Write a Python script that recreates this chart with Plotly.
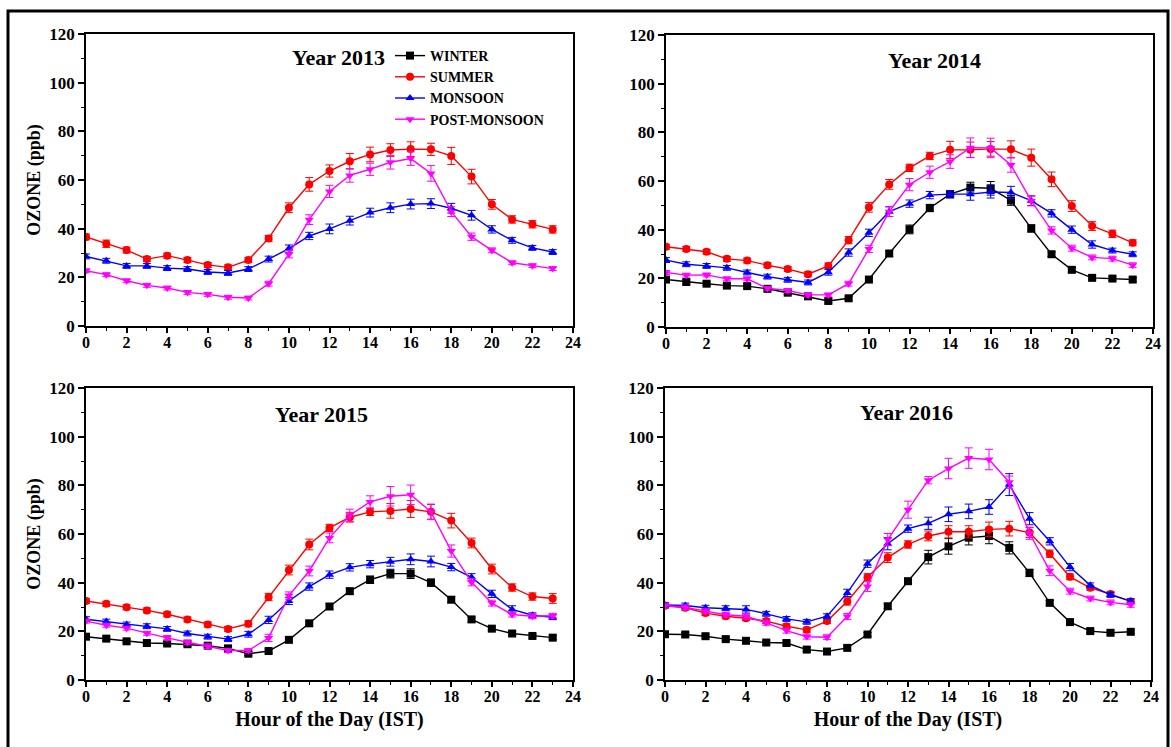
import plotly.graph_objects as go

hours = list(range(24))
x_ticks = list(range(0, 25, 2))
y_ticks = list(range(0, 121, 20))
years = ["Year 2013", "Year 2014", "Year 2015", "Year 2016"]
seasons = ["WINTER", "SUMMER", "MONSOON", "POST-MONSOON"]

# ---- 2013 (no winter data) ----
s13 = [36.6, 33.8, 31.2, 27.5, 28.9, 27.1, 25.1, 24.1, 27.1, 36.0, 48.6, 58.2,
       63.7, 67.7, 70.5, 72.3, 72.7, 72.6, 69.9, 61.4, 50.0, 43.8, 41.8, 39.7]
m13 = [28.6, 26.8, 24.7, 24.7, 23.8, 23.4, 22.2, 21.8, 23.4, 27.5, 31.8, 37.0,
       39.9, 43.3, 46.6, 48.6, 50.1, 50.3, 48.4, 45.5, 39.7, 35.2, 32.1, 30.4]
p13 = [22.7, 21.1, 18.6, 16.7, 15.6, 13.8, 13.0, 11.8, 11.5, 17.4, 29.5, 43.7,
       55.3, 61.9, 64.4, 67.3, 68.8, 62.7, 47.0, 36.7, 31.1, 26.0, 24.8, 23.6]
es13 = [1.2, 1.5, 1.2, 1.0, 1.0, 1.0, 1.0, 1.0, 1.0, 1.2, 2.0, 2.8,
        2.5, 3.2, 3.0, 2.6, 3.0, 2.5, 3.5, 3.0, 2.0, 1.5, 1.5, 1.5]
em13 = [1.0, 1.0, 1.0, 1.0, 1.0, 1.0, 1.0, 1.0, 1.0, 1.2, 1.5, 1.5,
        2.0, 1.8, 1.8, 2.0, 2.0, 2.0, 2.0, 2.0, 1.5, 1.2, 1.0, 1.0]
ep13 = [0.8, 0.8, 0.8, 0.8, 0.8, 0.8, 0.8, 0.8, 0.8, 1.0, 1.5, 2.0,
        2.5, 2.8, 2.5, 2.8, 2.8, 3.2, 2.0, 1.5, 1.0, 0.8, 0.8, 0.8]

# ---- 2014 ----
w14 = [19.5, 18.5, 17.8, 17.0, 16.8, 15.7, 14.1, 12.6, 10.7, 11.8, 19.5, 30.2,
       40.1, 48.9, 54.6, 57.3, 57.0, 52.0, 40.5, 29.9, 23.5, 20.2, 19.9, 19.5]
s14 = [33.0, 32.1, 30.9, 28.0, 27.3, 25.4, 23.8, 21.7, 25.1, 35.7, 49.2, 58.6,
       65.4, 70.3, 72.8, 72.8, 73.2, 73.0, 69.6, 60.7, 49.7, 41.5, 38.3, 34.6]
m14 = [27.5, 25.8, 25.1, 24.3, 22.4, 20.7, 19.4, 18.3, 22.5, 30.6, 38.7, 47.4,
       50.7, 54.2, 54.6, 54.6, 55.5, 55.3, 51.9, 46.7, 40.0, 33.9, 31.4, 29.9]
p14 = [22.4, 21.3, 21.4, 19.8, 19.8, 15.9, 15.0, 13.2, 13.2, 17.8, 32.1, 47.4,
       58.5, 63.6, 68.0, 73.7, 73.6, 66.6, 51.8, 39.7, 32.4, 28.6, 28.1, 25.4]
ew14 = [0.8, 0.8, 0.8, 0.8, 0.8, 0.8, 0.8, 0.8, 0.8, 0.8, 1.0, 1.2,
        1.8, 1.5, 1.5, 2.2, 2.8, 2.0, 1.5, 1.0, 1.0, 0.8, 0.8, 0.8]
es14 = [1.0, 1.0, 1.0, 1.0, 1.0, 1.0, 1.0, 1.0, 1.2, 1.5, 2.0, 2.0,
        1.5, 1.5, 3.5, 3.2, 3.0, 3.5, 3.5, 3.0, 2.2, 1.8, 1.5, 1.2]
em14 = [1.0, 1.0, 1.0, 1.0, 1.0, 1.0, 1.0, 1.0, 1.2, 1.5, 1.5, 2.0,
        1.5, 1.5, 1.5, 2.5, 2.5, 2.5, 2.0, 1.5, 1.5, 1.5, 1.0, 1.0]
ep14 = [0.8, 0.8, 0.8, 0.8, 0.8, 0.8, 0.8, 0.8, 0.8, 1.0, 1.5, 2.0,
        2.5, 2.5, 2.8, 4.0, 4.0, 3.0, 2.0, 1.5, 1.2, 1.0, 1.0, 1.0]

# ---- 2015 ----
w15 = [17.8, 17.0, 15.9, 15.2, 15.0, 14.7, 14.1, 13.0, 10.8, 11.9, 16.5, 23.3,
       30.2, 36.5, 41.2, 43.7, 43.7, 40.0, 33.0, 24.9, 21.1, 19.1, 18.1, 17.4]
s15 = [32.5, 31.3, 29.9, 28.6, 27.0, 24.9, 22.8, 21.0, 23.1, 34.1, 45.2, 55.7,
       62.5, 66.9, 69.1, 69.5, 70.3, 69.1, 65.5, 56.3, 45.6, 38.0, 34.3, 33.5]
m15 = [25.0, 24.0, 22.8, 22.1, 21.0, 19.1, 17.8, 16.8, 18.8, 24.7, 32.5, 38.4,
       43.3, 46.3, 47.6, 48.6, 49.6, 48.7, 46.4, 42.2, 35.4, 29.0, 26.6, 25.8]
p15 = [24.2, 22.5, 21.3, 19.2, 17.3, 15.5, 13.9, 12.1, 12.1, 17.3, 34.7, 44.8,
       58.4, 67.7, 73.2, 75.5, 76.1, 69.1, 53.0, 40.2, 31.6, 26.9, 26.2, 26.4]
ew15 = [0.8, 0.8, 0.8, 0.8, 0.8, 0.8, 0.8, 0.8, 0.8, 0.8, 0.8, 1.0,
        1.2, 1.2, 1.5, 1.8, 2.0, 1.5, 1.2, 1.0, 0.8, 0.8, 0.8, 0.8]
es15 = [1.0, 1.0, 1.0, 1.0, 1.0, 1.0, 1.0, 1.0, 1.2, 1.5, 2.0, 2.2,
        1.5, 2.0, 1.5, 3.0, 3.5, 3.0, 3.0, 2.0, 2.0, 1.5, 1.5, 2.0]
em15 = [1.0, 1.0, 1.0, 1.0, 1.0, 1.0, 1.0, 1.0, 1.2, 1.5, 1.5, 1.5,
        1.5, 1.5, 1.5, 1.8, 2.2, 2.2, 1.5, 1.5, 1.5, 1.5, 1.0, 1.0]
ep15 = [0.8, 0.8, 0.8, 0.8, 1.0, 1.0, 1.0, 0.8, 0.8, 1.5, 1.5, 2.0,
        2.0, 2.5, 2.5, 4.0, 4.0, 3.2, 2.5, 1.5, 1.2, 1.0, 1.0, 1.0]

# ---- 2016 ----
w16 = [18.8, 18.7, 18.0, 16.8, 16.1, 15.4, 15.2, 12.5, 11.7, 13.2, 18.7, 30.3,
       40.6, 50.5, 54.9, 58.5, 59.2, 54.3, 44.0, 31.7, 23.8, 20.1, 19.4, 19.8]
s16 = [30.5, 29.7, 27.5, 26.2, 25.4, 24.2, 22.1, 20.6, 24.2, 32.3, 42.2, 50.3,
       55.7, 59.2, 60.9, 60.9, 61.9, 62.2, 60.6, 51.9, 42.4, 37.9, 35.3, 32.3]
m16 = [30.8, 30.6, 29.7, 29.5, 29.0, 27.2, 25.1, 23.9, 26.2, 35.8, 47.8, 56.0,
       62.2, 64.4, 68.1, 69.3, 71.1, 80.3, 66.3, 57.0, 46.4, 38.9, 35.0, 32.4]
p16 = [30.6, 29.9, 28.3, 26.8, 26.2, 23.5, 20.3, 17.8, 17.6, 26.1, 38.4, 57.7,
       70.0, 82.1, 86.9, 91.2, 90.6, 81.3, 60.3, 44.9, 36.5, 33.5, 31.9, 30.9]
ew16 = [0.8, 0.8, 0.8, 0.8, 0.8, 0.8, 0.8, 0.8, 0.8, 0.8, 0.8, 1.0,
        1.2, 2.8, 3.2, 3.0, 3.2, 2.5, 1.5, 1.0, 0.8, 0.8, 0.8, 0.8]
es16 = [1.0, 1.0, 1.0, 1.0, 1.0, 1.0, 1.0, 1.0, 1.0, 1.5, 1.5, 2.0,
        1.5, 2.0, 2.5, 2.5, 3.0, 3.0, 2.0, 1.5, 1.2, 1.0, 1.0, 1.0]
em16 = [1.0, 1.0, 1.0, 1.0, 1.5, 1.0, 1.0, 1.0, 1.0, 1.5, 1.5, 2.5,
        1.5, 2.5, 3.0, 3.0, 3.0, 4.5, 2.5, 1.5, 1.5, 1.0, 1.0, 1.0]
ep16 = [1.0, 1.0, 1.0, 1.0, 1.0, 1.0, 1.0, 1.0, 1.0, 1.2, 2.0, 2.5,
        3.5, 1.5, 4.2, 4.2, 4.2, 2.5, 2.5, 2.0, 1.2, 1.0, 1.0, 1.0]

colors = {"WINTER": "#000000", "SUMMER": "#FF0000",
          "MONSOON": "#0000FF", "POST-MONSOON": "#FF00FF"}
symbols = {"WINTER": "square", "SUMMER": "circle",
           "MONSOON": "triangle-up", "POST-MONSOON": "triangle-down"}

panels = [
    {"WINTER": None, "SUMMER": (s13, es13), "MONSOON": (m13, em13), "POST-MONSOON": (p13, ep13)},
    {"WINTER": (w14, ew14), "SUMMER": (s14, es14), "MONSOON": (m14, em14), "POST-MONSOON": (p14, ep14)},
    {"WINTER": (w15, ew15), "SUMMER": (s15, es15), "MONSOON": (m15, em15), "POST-MONSOON": (p15, ep15)},
    {"WINTER": (w16, ew16), "SUMMER": (s16, es16), "MONSOON": (m16, em16), "POST-MONSOON": (p16, ep16)},
]

W, H = 1171, 747
# pixel boxes of plot areas: (left, right, top, bottom)
boxes = [(86, 573, 34, 326), (666, 1153, 35, 327), (86, 573, 388, 680), (665, 1151, 388, 680)]
title_pos = [(338, 58), (934, 60), (321, 414), (906, 412)]

FONT = "Liberation Serif"
fig = go.Figure()

for i, panel in enumerate(panels):
    xa = "x" if i == 0 else f"x{i+1}"
    ya = "y" if i == 0 else f"y{i+1}"
    for s in seasons:
        data = panel[s]
        show = (i == 1)
        if data is None:
            continue
        vals, errs = data
        fig.add_trace(go.Scatter(
            x=hours, y=vals, name=s, mode="lines+markers",
            xaxis=xa, yaxis=ya, showlegend=show, legendrank=seasons.index(s) + 1,
            line=dict(color=colors[s], width=1.4),
            marker=dict(symbol=symbols[s], color=colors[s], size=8),
            error_y=dict(type="data", array=errs, color=colors[s], thickness=1, width=4),
        ))

layout = dict(
    width=W, height=H, margin=dict(l=0, r=0, t=0, b=0, autoexpand=False),
    paper_bgcolor="white", plot_bgcolor="white",
    font=dict(family=FONT, color="black", size=16, weight="bold"),
    legend=dict(x=390 / W, y=1 - 40 / H, xanchor="left", yanchor="top",
                bgcolor="rgba(0,0,0,0)", font=dict(family=FONT, size=14, weight="bold", color="black"),
                tracegroupgap=0, itemwidth=30),
)

for i, (l, r, t, b) in enumerate(boxes):
    xk = "xaxis" if i == 0 else f"xaxis{i+1}"
    yk = "yaxis" if i == 0 else f"yaxis{i+1}"
    ya_name = "y" if i == 0 else f"y{i+1}"
    xa_name = "x" if i == 0 else f"x{i+1}"
    layout[xk] = dict(
        domain=[l / W, r / W], range=[0, 24], anchor=ya_name, automargin=False,
        tickvals=x_ticks, ticktext=[str(v) for v in x_ticks],
        ticks="outside", ticklen=5, tickwidth=1.5, tickcolor="black",
        minor=dict(dtick=1, ticks="outside", ticklen=3, tickwidth=1, tickcolor="black"),
        showline=True, linecolor="black", linewidth=1.5, mirror=True,
        showgrid=False, zeroline=False, ticklabelstandoff=-4,
        tickfont=dict(family=FONT, size=16, weight="bold"),
        title=dict(text="Hour of the Day (IST)" if i >= 2 else "",
                   font=dict(family=FONT, size=20, weight="bold"), standoff=8),
    )
    layout[yk] = dict(
        domain=[1 - b / H, 1 - t / H], range=[0, 120], anchor=xa_name, automargin=False,
        tickvals=y_ticks, ticktext=[str(v) for v in y_ticks],
        ticks="outside", ticklen=6, tickwidth=1.5, tickcolor="black",
        minor=dict(dtick=10, ticks="outside", ticklen=3, tickwidth=1, tickcolor="black"),
        showline=True, linecolor="black", linewidth=1.5, mirror=True,
        showgrid=False, zeroline=False,
        tickfont=dict(family=FONT, size=17, weight="bold"),
        title=dict(text="OZONE (ppb)" if i in (0, 2) else "",
                   font=dict(family=FONT, size=18, weight="bold"), standoff=4),
    )

fig.update_layout(**layout)

for i, (tx, ty) in enumerate(title_pos):
    fig.add_annotation(text=years[i], x=tx / W, y=1 - ty / H, xref="paper", yref="paper",
                       showarrow=False, xanchor="center", yanchor="middle",
                       font=dict(family=FONT, size=22, weight="bold", color="black"))

# outer frame
fig.add_shape(type="rect", xref="paper", yref="paper",
              x0=8 / W, x1=1168 / W, y0=-0.05, y1=1 - 11 / H,
              line=dict(color="black", width=3), fillcolor="rgba(0,0,0,0)", layer="below")

fig.write_html("out.html", config={"displayModeBar": False},
               post_script="document.body.style.margin='0';document.body.style.overflow='hidden';")
